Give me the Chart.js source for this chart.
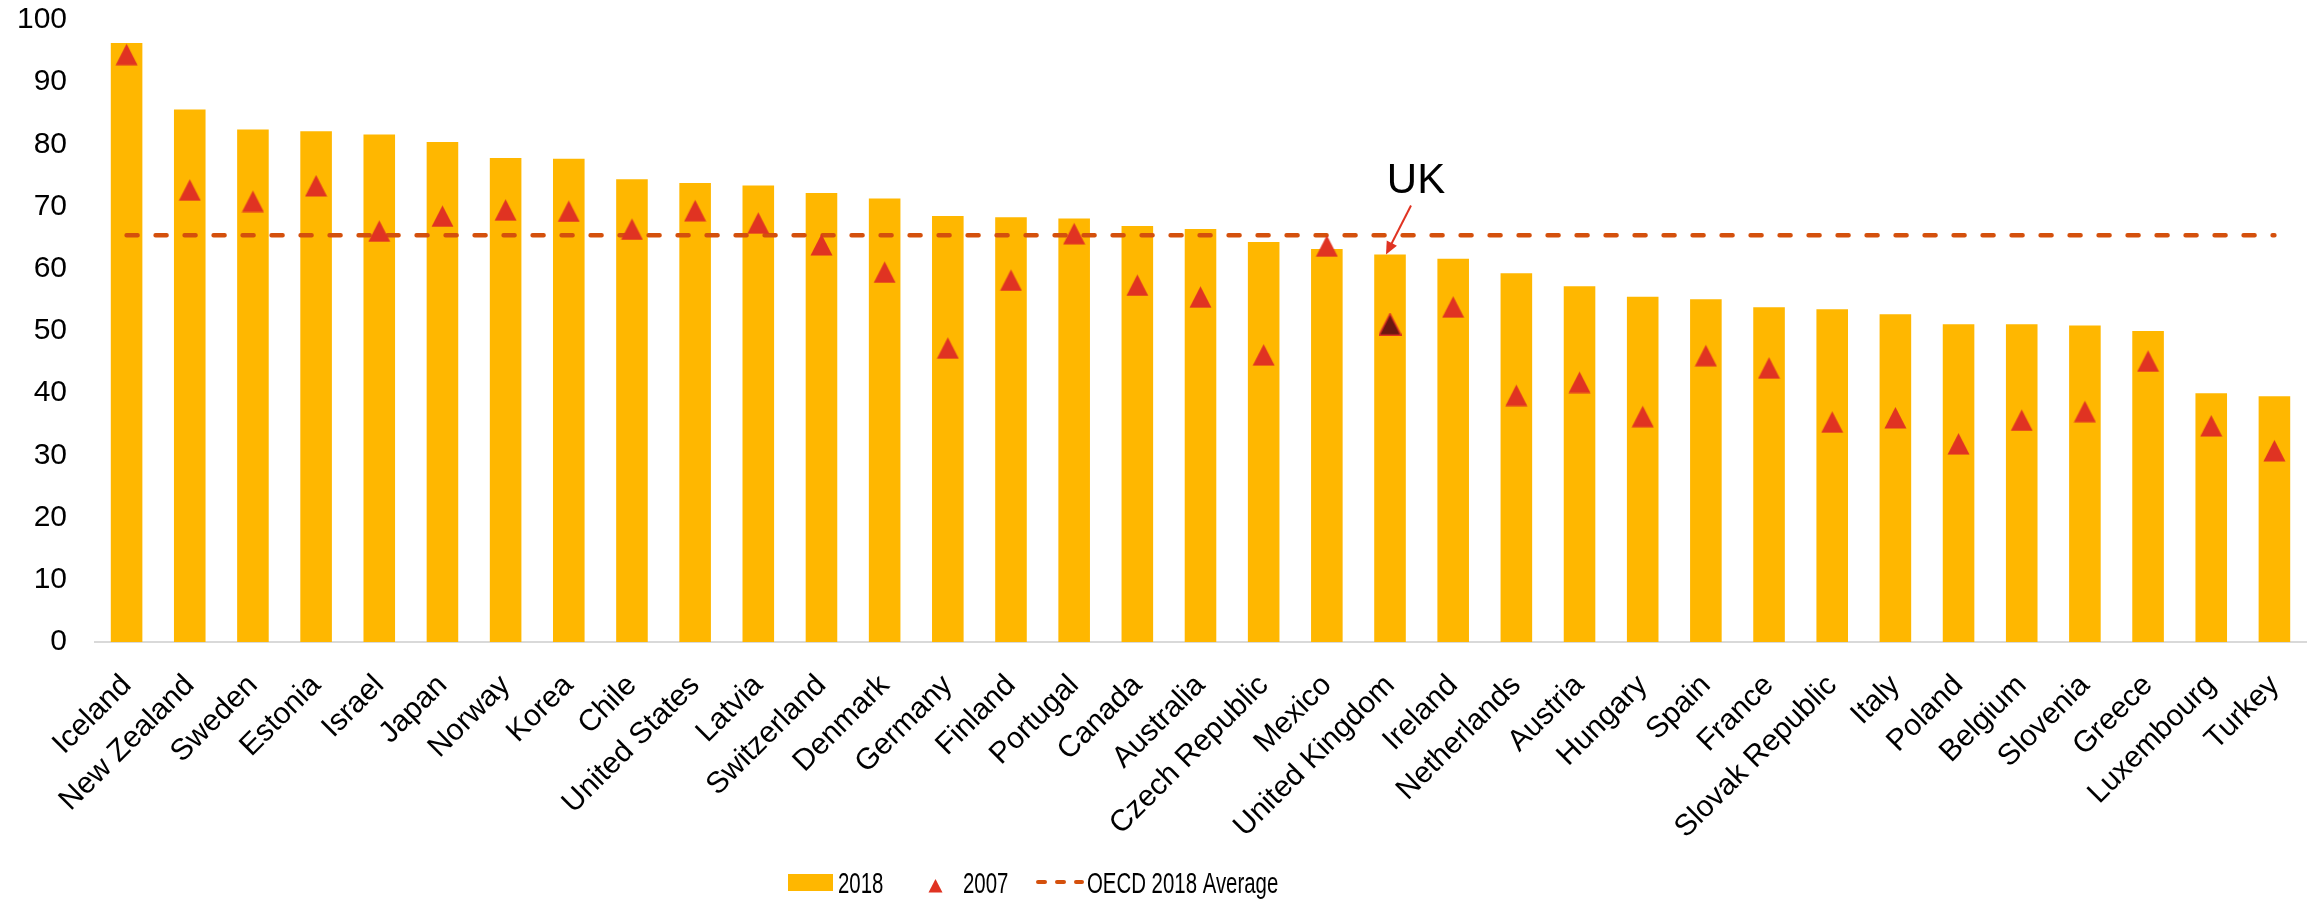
<!DOCTYPE html>
<html>
<head>
<meta charset="utf-8">
<script src="https://cdn.jsdelivr.net/npm/chart.js@4.4.1/dist/chart.umd.min.js"></script>
<style>
  html, body { margin: 0; padding: 0; background: #fff; }
  #wrap { width: 2313px; height: 899px; position: relative; }
</style>
</head>
<body>
<div id="wrap"><canvas id="chart"></canvas></div>
<script>
const countries = [
  'Iceland', 'New Zealand', 'Sweden', 'Estonia', 'Israel', 'Japan', 'Norway',
  'Korea', 'Chile', 'United States', 'Latvia', 'Switzerland', 'Denmark',
  'Germany', 'Finland', 'Portugal', 'Canada', 'Australia', 'Czech Republic',
  'Mexico', 'United Kingdom', 'Ireland', 'Netherlands', 'Austria', 'Hungary',
  'Spain', 'France', 'Slovak Republic', 'Italy', 'Poland', 'Belgium',
  'Slovenia', 'Greece', 'Luxembourg', 'Turkey'
];
const share2018 = [
  96.3, 85.6, 82.4, 82.1, 81.6, 80.4, 77.8, 77.7, 74.4, 73.8, 73.4, 72.2,
  71.3, 68.5, 68.3, 68.1, 66.9, 66.4, 64.3, 63.2, 62.3, 61.6, 59.3, 57.2,
  55.5, 55.1, 53.8, 53.5, 52.7, 51.1, 51.1, 50.9, 50.0, 40.0, 39.5
];
const share2007 = [
  94.5, 72.7, 70.9, 73.4, 66.1, 68.5, 69.5, 69.3, 66.4, 69.4, 67.4, 63.9,
  59.5, 47.3, 58.2, 65.7, 57.4, 55.5, 46.2, 63.7, 51.1, 53.9, 39.7, 41.8,
  36.3, 46.1, 44.1, 35.4, 36.1, 31.9, 35.7, 37.1, 45.2, 34.8, 30.8
];
const oecdAverage2018 = 65.4;
const yTicks = [0, 10, 20, 30, 40, 50, 60, 70, 80, 90, 100];
const highlight = 'United Kingdom';
const legendLabels = ['2018', '2007', 'OECD 2018 Average'];

const GOLD = '#ffb700';
const RED = '#e03322';
const DARK_RED = '#6b1710';
const AVG = '#d4500c';
const FONT = '"Liberation Sans", Arial, sans-serif';

// upright triangle drawn on its own canvas so it sits centred on the value
function triangleMarker(w, h, fill, stroke) {
  const c = document.createElement('canvas');
  c.width = w;
  c.height = h;
  const g = c.getContext('2d');
  g.beginPath();
  g.moveTo(w / 2, 1);
  g.lineTo(w - 0.5, h - 0.5);
  g.lineTo(0.5, h - 0.5);
  g.closePath();
  g.fillStyle = fill;
  g.fill();
  if (stroke) {
    g.strokeStyle = stroke;
    g.lineWidth = 1.5;
    g.stroke();
  }
  return c;
}

const marker = triangleMarker(23, 23, RED);
const markerUK = triangleMarker(23, 23, DARK_RED, RED);
const markerSmall = triangleMarker(15, 15, RED);

// "UK" label with an arrow pointing at the top of its bar
const ukCallout = {
  id: 'ukCallout',
  afterDatasetsDraw(chart) {
    const { ctx, scales: { x, y } } = chart;
    const i = countries.indexOf(highlight);
    const px = x.getPixelForValue(i);
    const py = y.getPixelForValue(share2018[i]);
    const tip = { x: px - 4, y: py };
    const tail = { x: px + 21, y: py - 49 };
    const ang = Math.atan2(tip.y - tail.y, tip.x - tail.x);
    const head = 14;

    ctx.save();
    ctx.strokeStyle = RED;
    ctx.fillStyle = RED;
    ctx.lineWidth = 2;
    ctx.beginPath();
    ctx.moveTo(tail.x, tail.y);
    ctx.lineTo(tip.x - Math.cos(ang) * head * 0.8, tip.y - Math.sin(ang) * head * 0.8);
    ctx.stroke();
    ctx.beginPath();
    ctx.moveTo(tip.x, tip.y);
    ctx.lineTo(tip.x - Math.cos(ang - 0.42) * head, tip.y - Math.sin(ang - 0.42) * head);
    ctx.lineTo(tip.x - Math.cos(ang + 0.42) * head, tip.y - Math.sin(ang + 0.42) * head);
    ctx.closePath();
    ctx.fill();

    ctx.fillStyle = '#000';
    ctx.font = '42px ' + FONT;
    ctx.textAlign = 'center';
    ctx.textBaseline = 'middle';
    ctx.fillText('UK', px + 26, py - 73);
    ctx.restore();
  }
};

// legend along the bottom, text set in a condensed width
const bottomLegend = {
  id: 'bottomLegend',
  afterDraw(chart) {
    const { ctx } = chart;
    const base = 893;
    const squeeze = 0.68;
    const label = (text, x) => {
      ctx.save();
      ctx.translate(x, base);
      ctx.scale(squeeze, 1);
      ctx.fillText(text, 0, 0);
      ctx.restore();
    };

    ctx.save();
    ctx.font = '30px ' + FONT;
    ctx.fillStyle = '#000';
    ctx.textBaseline = 'alphabetic';

    ctx.fillStyle = GOLD;
    ctx.fillRect(788, 874, 45, 17);
    ctx.fillStyle = '#000';
    label(legendLabels[0], 838);

    ctx.drawImage(markerSmall, 928, 878);
    label(legendLabels[1], 963);

    ctx.strokeStyle = AVG;
    ctx.lineWidth = 4;
    ctx.lineCap = 'round';
    ctx.setLineDash([7, 12]);
    ctx.beginPath();
    ctx.moveTo(1038, 882);
    ctx.lineTo(1082, 882);
    ctx.stroke();
    label(legendLabels[2], 1087);
    ctx.restore();
  }
};

new Chart(document.getElementById('chart'), {
  data: {
    labels: countries,
    datasets: [
      {
        type: 'line',
        label: legendLabels[1],
        data: share2007,
        showLine: false,
        pointStyle: ctx => countries[ctx.dataIndex] === highlight ? markerUK : marker,
        pointRadius: 12,
        order: 1
      },
      {
        type: 'line',
        label: legendLabels[2],
        data: countries.map(() => oecdAverage2018),
        borderColor: AVG,
        borderWidth: 4.5,
        borderDash: [11, 18],
        borderCapStyle: 'round',
        pointRadius: 0,
        fill: false,
        order: 2
      },
      {
        type: 'bar',
        label: legendLabels[0],
        data: share2018,
        backgroundColor: GOLD,
        barPercentage: 0.5,
        categoryPercentage: 1,
        order: 3
      }
    ]
  },
  options: {
    responsive: true,
    maintainAspectRatio: false,
    animation: false,
    layout: { autoPadding: false, padding: { top: 20, right: 7, bottom: 0, left: 0 } },
    plugins: {
      legend: { display: false },
      tooltip: { enabled: false }
    },
    scales: {
      x: {
        offset: true,
        grid: { display: false, drawTicks: false },
        border: { display: true, color: '#d9d9d9', width: 2 },
        ticks: {
          autoSkip: false,
          minRotation: 45,
          maxRotation: 45,
          padding: 26,
          color: '#000',
          font: { family: FONT, size: 30 }
        },
        afterFit: s => {
          s.height = 257;
          s.paddingLeft = 0;
          s.paddingRight = 0;
        }
      },
      y: {
        min: 0,
        max: 100,
        grid: { display: false, drawTicks: false },
        border: { display: false },
        ticks: {
          padding: 28,
          color: '#000',
          font: { family: FONT, size: 30 }
        },
        afterBuildTicks: s => { s.ticks = yTicks.map(v => ({ value: v })); },
        afterFit: s => {
          s.width = 95;
          s.paddingTop = 0;
          s.paddingBottom = 0;
        }
      }
    }
  },
  plugins: [ukCallout, bottomLegend]
});
</script>
</body>
</html>
